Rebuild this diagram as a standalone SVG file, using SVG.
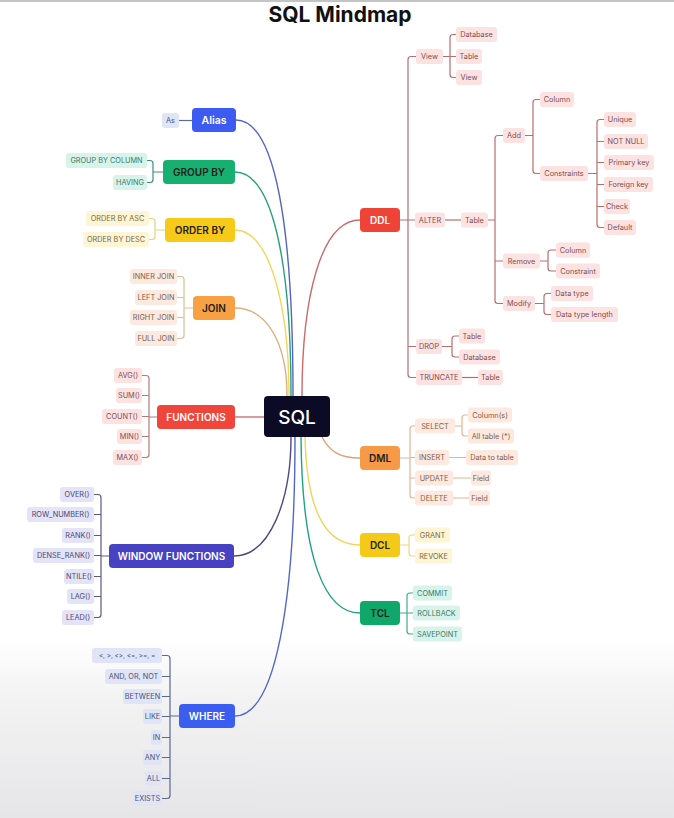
<svg xmlns="http://www.w3.org/2000/svg" width="674" height="818" viewBox="0 0 674 818">
<defs>
<linearGradient id="bg" x1="0" y1="0" x2="0" y2="1">
<stop offset="0" stop-color="#ffffff"/>
<stop offset="0.35" stop-color="#f2f2f3"/>
<stop offset="1" stop-color="#e6e6e8"/>
</linearGradient>
</defs>
<style>
text{font-family:Inter,"Noto Sans","Liberation Sans",sans-serif;text-anchor:middle}
.title{font-size:21px;font-weight:700;fill:#111}
.node text{font-size:10px;font-weight:600}
.wt{fill:#ffffff}
.dk{fill:#1e1e1e}
.pill text{font-size:7.3px}
.red rect{fill:#fde2e2}.red text{fill:#7d4f4f}
.org rect{fill:#fde9df}.org text{fill:#7d6048}
.yel rect{fill:#fdf5d6}.yel text{fill:#7a6a3a}
.grn rect{fill:#d7f3ea}.grn text{fill:#3d7a6a}
.vio rect{fill:#e4e3f8}.vio text{fill:#4a4a72}
.blu rect{fill:#e0e4f7}.blu text{fill:#4a5478}
.br{fill:none;stroke-width:1.2}
.main{fill:none;stroke-width:1.4}
</style>
<rect width="674" height="818" fill="#ffffff"/>
<rect y="640" width="674" height="178" fill="url(#bg)"/>
<line x1="0" y1="1" x2="674" y2="1" stroke="#c4c4c4" stroke-width="2"/>
<text class="title" x="340" y="22">SQL Mindmap</text>

<g id="connectors">
<!-- main -->
<path class="main" stroke="#5564c2" d="M236,120 C276,120 293,230 293,396"/>
<path class="main" stroke="#2a9e7e" d="M235,172 C272,172 291,260 291,396"/>
<path class="main" stroke="#efd75c" d="M235,230 C268,230 289,300 289,396"/>
<path class="main" stroke="#dcae80" d="M235,308 C265,308 287,340 287,396"/>
<path class="main" stroke="#c86b6b" d="M360,220 C320,220 302,300 302,396"/>
<path class="main" stroke="#c87272" d="M235,417 H264"/>
<path class="main" stroke="#4d4a82" d="M234,556 C270,556 291,500 291,437"/>
<path class="main" stroke="#5068c8" d="M235,716 C276,716 295,600 295,437"/>
<path class="main" stroke="#dca274" d="M322,437 C330,452 340,458 360,458"/>
<path class="main" stroke="#efd55a" d="M305,437 C307,520 330,545 360,545"/>
<path class="main" stroke="#1fa37f" d="M301,437 C302,560 325,613 360,613"/>
<!-- left brackets -->
<path class="br" stroke="#5a68a6" d="M179,120.5 H192"/>
<path class="br" stroke="#3a8f86" d="M163,172 H153 M147,160.5 H150 Q153,160.5 153,163.5 V179.5 Q153,182.5 150,182.5 H147"/>
<path class="br" stroke="#e8d47a" d="M165,230 H155 M149,218.5 H152 Q155,218.5 155,221.5 V236.5 Q155,239.5 152,239.5 H149"/>
<path class="br" stroke="#e2bd98" d="M193,308 H184 M177,276.5 H181 Q184,276.5 184,279.5 V335.5 Q184,338.5 181,338.5 H177 M177,297.5 H184 M177,317.5 H184"/>
<path class="br" stroke="#b87a7a" d="M157,417 H149 M142,375.5 H146 Q149,375.5 149,378.5 V454.5 Q149,457.5 146,457.5 H142 M142,395.5 H149 M142,416.5 H149 M142,436.5 H149"/>
<path class="br" stroke="#5c5a84" d="M109,556 H101 M94,494.5 H98 Q101,494.5 101,497.5 V614.5 Q101,617.5 98,617.5 H94 M94,514.5 H101 M94,535.5 H101 M94,555.5 H101 M94,576.5 H101 M94,596.5 H101"/>
<path class="br" stroke="#5a6894" d="M179,716 H170 M162,655.5 H167 Q170,655.5 170,658.5 V795.5 Q170,798.5 167,798.5 H162 M162,676.5 H170 M162,696.5 H170 M162,716.5 H170 M162,737.5 H170 M162,757.5 H170 M162,778.5 H170"/>
<!-- DDL -->
<g class="br" stroke="#b86e6e">
<path d="M400,220 H415 M416,56.5 H411 Q408,56.5 408,59.5 V374.5 Q408,377.5 411,377.5 H416 M408,346.5 H416"/>
<path d="M443,56.5 H456 M456,34.5 H453 Q450,34.5 450,37.5 V74.5 Q450,77.5 453,77.5 H456"/>
<path d="M445,220 H461"/>
<path d="M488,220 H495 M503,135.5 H498 Q495,135.5 495,138.5 V300.5 Q495,303.5 498,303.5 H503 M495,261 H503"/>
<path d="M525,135.5 H533 M540,99.5 H536 Q533,99.5 533,102.5 V170.5 Q533,173.5 536,173.5 H540"/>
<path d="M588,173.5 H597 M604,119.5 H600 Q597,119.5 597,122.5 V224.5 Q597,227.5 600,227.5 H604 M597,141.5 H604 M597,162.5 H604 M597,184.5 H604 M597,206.5 H604"/>
<path d="M540,261 H548 M556,250 H551 Q548,250 548,253 V268 Q548,271 551,271 H556"/>
<path d="M535,303.5 H544 M551,293.5 H547 Q544,293.5 544,296.5 V311.5 Q544,314.5 547,314.5 H551"/>
<path d="M442,346.5 H452 M459,336 H455 Q452,336 452,339 V354 Q452,357 455,357 H459"/>
<path d="M462,377.5 H478"/>
</g>
<!-- DML -->
<g class="br" stroke="#e3b596">
<path d="M400,458 H410 M415,426 H413 Q410,426 410,429 V495 Q410,498 413,498 H415 M410,457.5 H415 M410,478 H415"/>
<path d="M455,426 H462 M468,415 H465 Q462,415 462,418 V433 Q462,436 465,436 H468"/>
<path d="M449,457.5 H466 M453,478 H471 M453,498 H469"/>
</g>
<path class="br" stroke="#efd77c" d="M400,545 H409 M415,535 H412 Q409,535 409,538 V553 Q409,556 412,556 H415"/>
<path class="br" stroke="#3fab8f" d="M400,613 H413 M413,593 H410 Q407,593 407,596 V631 Q407,634 410,634 H413"/>
</g>

<g id="sql" class="node"><rect x="264" y="396" width="66" height="41" rx="4" fill="#0b0b26"/><text x="297" y="423.5" class="wt" style="font-size:19px;font-weight:500">SQL</text></g>

<g id="alias" class="node"><rect x="192" y="108" width="44" height="24" rx="4" fill="#3d5af1"/><text x="214" y="124" class="wt" style="font-size:10.5px">Alias</text></g>
<g id="alias-c" class="pill blu"><rect x="162" y="113" width="17" height="15" rx="3"/><text x="170.5" y="123">As</text></g>

<g id="groupby" class="node"><rect x="163" y="160" width="72" height="24" rx="4" fill="#17b070"/><text x="199" y="175.5" class="dk">GROUP BY</text></g>
<g id="groupby-c" class="pill grn">
<rect x="66" y="153" width="81" height="15" rx="3"/><text x="106.5" y="163">GROUP BY COLUMN</text>
<rect x="113" y="175" width="34" height="15" rx="3"/><text x="130" y="185">HAVING</text>
</g>

<g id="orderby" class="node"><rect x="165" y="218" width="70" height="24" rx="4" fill="#f7c919"/><text x="200" y="233.5" class="dk">ORDER BY</text></g>
<g id="orderby-c" class="pill yel">
<rect x="86" y="211" width="63" height="15" rx="3"/><text x="117.5" y="221">ORDER BY ASC</text>
<rect x="83" y="232" width="66" height="15" rx="3"/><text x="116" y="242">ORDER BY DESC</text>
</g>

<g id="join" class="node"><rect x="193" y="296" width="42" height="24" rx="4" fill="#f7a044"/><text x="214" y="311.5" class="dk">JOIN</text></g>
<g id="join-c" class="pill org">
<rect x="130" y="269" width="47" height="15" rx="3"/><text x="153.5" y="279">INNER JOIN</text>
<rect x="135" y="290" width="42" height="15" rx="3"/><text x="156" y="300">LEFT JOIN</text>
<rect x="130" y="310" width="47" height="15" rx="3"/><text x="153.5" y="320">RIGHT JOIN</text>
<rect x="135" y="331" width="42" height="15" rx="3"/><text x="156" y="341">FULL JOIN</text>
</g>

<g id="functions" class="node"><rect x="157" y="405" width="78" height="24" rx="4" fill="#f0453a"/><text x="196" y="420.5" class="wt">FUNCTIONS</text></g>
<g id="functions-c" class="pill red">
<rect x="114" y="368" width="28" height="15" rx="3"/><text x="128" y="378">AVG()</text>
<rect x="116" y="388" width="26" height="15" rx="3"/><text x="129" y="398">SUM()</text>
<rect x="102" y="409" width="40" height="15" rx="3"/><text x="122" y="419">COUNT()</text>
<rect x="117" y="429" width="25" height="15" rx="3"/><text x="129.5" y="439">MIN()</text>
<rect x="113" y="450" width="29" height="15" rx="3"/><text x="127.5" y="460">MAX()</text>
</g>

<g id="window" class="node"><rect x="109" y="544" width="125" height="24" rx="4" fill="#4642c2"/><text x="171.5" y="559.5" class="wt">WINDOW FUNCTIONS</text></g>
<g id="window-c" class="pill vio">
<rect x="60" y="487" width="34" height="15" rx="3"/><text x="77" y="497">OVER()</text>
<rect x="27" y="507" width="67" height="15" rx="3"/><text x="60.5" y="517">ROW_NUMBER()</text>
<rect x="62" y="528" width="32" height="15" rx="3"/><text x="78" y="538">RANK()</text>
<rect x="33" y="548" width="61" height="15" rx="3"/><text x="63.5" y="558">DENSE_RANK()</text>
<rect x="64" y="569" width="30" height="15" rx="3"/><text x="79" y="579">NTILE()</text>
<rect x="67" y="589" width="27" height="15" rx="3"/><text x="80.5" y="599">LAG()</text>
<rect x="62" y="610" width="32" height="15" rx="3"/><text x="78" y="620">LEAD()</text>
</g>

<g id="where" class="node"><rect x="179" y="704" width="56" height="24" rx="4" fill="#3c5ef0"/><text x="207" y="719.5" class="wt">WHERE</text></g>
<g id="where-c" class="pill blu">
<rect x="92" y="648" width="70" height="15" rx="3"/><text x="127" y="658" style="font-size:6.4px">&lt;, &gt;, &lt;&gt;, &lt;=, &gt;=, =</text>
<rect x="105" y="669" width="57" height="15" rx="3"/><text x="133.5" y="679">AND, OR, NOT</text>
<rect x="123" y="689" width="39" height="15" rx="3"/><text x="142.5" y="699">BETWEEN</text>
<rect x="143" y="709" width="19" height="15" rx="3"/><text x="152.5" y="719">LIKE</text>
<rect x="151" y="730" width="11" height="15" rx="3"/><text x="156.5" y="740">IN</text>
<rect x="143" y="750" width="19" height="15" rx="3"/><text x="152.5" y="760">ANY</text>
<rect x="145" y="771" width="17" height="15" rx="3"/><text x="153.5" y="781">ALL</text>
<rect x="133" y="791" width="29" height="15" rx="3"/><text x="147.5" y="801">EXISTS</text>
</g>

<g id="ddl" class="node"><rect x="360" y="208" width="40" height="24" rx="4" fill="#ee4438"/><text x="380" y="223.5" class="wt">DDL</text></g>
<g id="ddl-c" class="pill red">
<rect x="416" y="49" width="27" height="15" rx="3"/><text x="429.5" y="59">View</text>
<rect x="456" y="27" width="41" height="15" rx="3"/><text x="476.5" y="37">Database</text>
<rect x="456" y="49" width="26" height="15" rx="3"/><text x="469" y="59">Table</text>
<rect x="456" y="70" width="26" height="15" rx="3"/><text x="469" y="80">View</text>
<rect x="415" y="212.5" width="30" height="15" rx="3"/><text x="430" y="222.5">ALTER</text>
<rect x="461" y="212.5" width="27" height="15" rx="3"/><text x="474.5" y="222.5">Table</text>
<rect x="503" y="128" width="22" height="15" rx="3"/><text x="514" y="138">Add</text>
<rect x="540" y="92" width="34" height="15" rx="3"/><text x="557" y="102">Column</text>
<rect x="540" y="166" width="48" height="15" rx="3"/><text x="564" y="176">Constraints</text>
<rect x="604" y="112" width="32" height="15" rx="3"/><text x="620" y="122">Unique</text>
<rect x="604" y="134" width="44" height="15" rx="3"/><text x="626" y="144">NOT NULL</text>
<rect x="604" y="155" width="50" height="15" rx="3"/><text x="629" y="165">Primary key</text>
<rect x="604" y="177" width="49" height="15" rx="3"/><text x="628.5" y="187">Foreign key</text>
<rect x="604" y="199" width="26" height="15" rx="3"/><text x="617" y="209">Check</text>
<rect x="604" y="220" width="32" height="15" rx="3"/><text x="620" y="230">Default</text>
<rect x="503" y="253.5" width="37" height="15" rx="3"/><text x="521.5" y="263.5">Remove</text>
<rect x="556" y="242.5" width="34" height="15" rx="3"/><text x="573" y="252.5">Column</text>
<rect x="556" y="263.5" width="44" height="15" rx="3"/><text x="578" y="273.5">Constraint</text>
<rect x="503" y="296" width="32" height="15" rx="3"/><text x="519" y="306">Modify</text>
<rect x="551" y="286" width="42" height="15" rx="3"/><text x="572" y="296">Data type</text>
<rect x="551" y="307" width="67" height="15" rx="3"/><text x="584.5" y="317">Data type length</text>
<rect x="416" y="339" width="26" height="15" rx="3"/><text x="429" y="349">DROP</text>
<rect x="459" y="328.5" width="26" height="15" rx="3"/><text x="472" y="338.5">Table</text>
<rect x="459" y="349.5" width="41" height="15" rx="3"/><text x="479.5" y="359.5">Database</text>
<rect x="416" y="370" width="46" height="15" rx="3"/><text x="439" y="380">TRUNCATE</text>
<rect x="478" y="370" width="25" height="15" rx="3"/><text x="490.5" y="380">Table</text>
</g>

<g id="dml" class="node"><rect x="360" y="446" width="40" height="24" rx="4" fill="#f79a47"/><text x="380" y="461.5" class="dk">DML</text></g>
<g id="dml-c" class="pill org">
<rect x="415" y="418.5" width="40" height="15" rx="3"/><text x="435" y="428.5">SELECT</text>
<rect x="468" y="407.5" width="44" height="15" rx="3"/><text x="490" y="417.5">Column(s)</text>
<rect x="468" y="428.5" width="46" height="15" rx="3"/><text x="491" y="438.5">All table (*)</text>
<rect x="415" y="450" width="34" height="15" rx="3"/><text x="432" y="460">INSERT</text>
<rect x="466" y="450" width="52" height="15" rx="3"/><text x="492" y="460">Data to table</text>
<rect x="415" y="470.5" width="38" height="15" rx="3"/><text x="434" y="480.5">UPDATE</text>
<rect x="471" y="470.5" width="20" height="15" rx="3"/><text x="481" y="480.5">Field</text>
<rect x="415" y="490.5" width="38" height="15" rx="3"/><text x="434" y="500.5">DELETE</text>
<rect x="469" y="490.5" width="21" height="15" rx="3"/><text x="479.5" y="500.5">Field</text>
</g>

<g id="dcl" class="node"><rect x="360" y="533" width="40" height="24" rx="4" fill="#f5c918"/><text x="380" y="548.5" class="dk">DCL</text></g>
<g id="dcl-c" class="pill yel">
<rect x="415" y="527.5" width="35" height="15" rx="3"/><text x="432.5" y="537.5">GRANT</text>
<rect x="415" y="548.5" width="37" height="15" rx="3"/><text x="433.5" y="558.5">REVOKE</text>
</g>

<g id="tcl" class="node"><rect x="360" y="601" width="40" height="24" rx="4" fill="#10a86a"/><text x="380" y="616.5" class="dk">TCL</text></g>
<g id="tcl-c" class="pill grn">
<rect x="413" y="585.5" width="39" height="15" rx="3"/><text x="432.5" y="595.5">COMMIT</text>
<rect x="413" y="605.5" width="47" height="15" rx="3"/><text x="436.5" y="615.5">ROLLBACK</text>
<rect x="413" y="626.5" width="49" height="15" rx="3"/><text x="437.5" y="636.5">SAVEPOINT</text>
</g>
</svg>
